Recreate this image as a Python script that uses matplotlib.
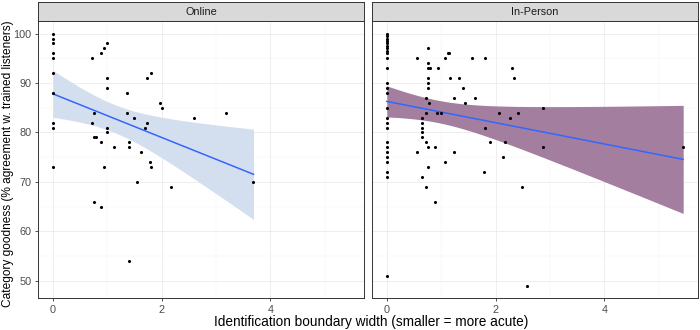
import numpy as np
import matplotlib.pyplot as plt

plt.rcParams['font.family'] = ['Liberation Sans', 'DejaVu Sans']

# Online panel: boundary width vs category goodness
online_x = [0, 0, 0, 0, 0, 0, 0, 0, 0, 0,
            0.72, 0.88, 0.94, 0.99, 0.99, 0.99, 1.37, 1.80, 1.74, 1.97,
            2.01, 2.60, 3.18, 0.76, 1.37, 1.50, 0.72, 1.74, 1.69, 0.99,
            0.99, 0.76, 0.79, 0.88, 1.12, 1.41, 1.41, 1.63, 1.79, 1.80,
            0.94, 1.54, 2.18, 0.76, 0.88, 1.41, 3.69]
online_y = [100, 99, 98, 96, 95, 92, 88, 82, 81, 73,
            95, 96, 97, 98, 91, 89, 88, 92, 91, 86,
            85, 83, 84, 84, 84, 83, 82, 82, 81, 81,
            80, 79, 79, 78, 77, 78, 77, 76, 74, 73,
            73, 70, 69, 66, 65, 54, 70]

# In-person panel
person_x = [0] * 26 + [
    0.76, 0.55, 0.76, 0.76, 0.79, 0.95, 0.76, 1.16, 0.76, 0.76,
    0.72, 1.23, 1.13, 1.15, 1.07, 1.56, 1.80, 2.31, 2.33, 1.32,
    1.41, 1.63, 1.44, 2.06, 2.42, 2.26, 1.80, 1.90, 2.17, 1.24,
    2.13, 1.79, 0.72, 0.93, 0.99, 0.65, 0.65, 0.65, 0.65, 0.65,
    0.72, 0.765, 0.88, 0.55, 1.07, 0.765, 0.65, 0.72, 2.48, 0.88,
    2.58, 2.88, 2.87, 5.45, 0.77]
person_y = [100, 99.5, 99, 98.5, 98, 97.5, 97, 96.5, 96, 95, 93, 90, 89, 88,
            85, 83, 82, 81, 78, 77, 76, 75, 74, 72, 71, 51] + [
    97, 95, 94, 93, 93, 93, 91, 91, 90, 89,
    87, 87, 96, 96, 95, 95, 95, 93, 91, 91,
    89, 87, 86, 84, 84, 83, 81, 78, 78, 76,
    75, 72, 84, 84, 84, 83, 82, 81, 80, 79,
    78, 77, 77, 76, 74, 73, 71, 69, 69, 66,
    49, 85, 77, 77, 86]

panels = [("Online", online_x, online_y, "#D3DFEE"),
          ("In-Person", person_x, person_y, "#A47E9F")]


def lm_band(x, y):
    # ordinary least squares with a 95% confidence band, like geom_smooth(method="lm")
    x = np.asarray(x, float)
    y = np.asarray(y, float)
    n = len(x)
    b, a = np.polyfit(x, y, 1)
    resid = y - (a + b * x)
    s = np.sqrt(np.sum(resid ** 2) / (n - 2))
    sxx = np.sum((x - x.mean()) ** 2)
    df = n - 2
    z = 1.959964
    t = z + (z ** 3 + z) / (4 * df) + (5 * z ** 5 + 16 * z ** 3 + 3 * z) / (96 * df ** 2)
    xs = np.linspace(x.min(), x.max(), 80)
    fit = a + b * xs
    se = s * np.sqrt(1 / n + (xs - x.mean()) ** 2 / sxx)
    return xs, fit, fit - t * se, fit + t * se


fig = plt.figure(figsize=(7, 3.3), dpi=100)
lefts = [38 / 700, 372 / 700]
width = 326 / 700
bottom = 31.7 / 330
height = 277.3 / 330

for i, (name, xv, yv, fill) in enumerate(panels):
    ax = fig.add_axes([lefts[i], bottom, width, height])
    xs, fit, lo, hi = lm_band(xv, yv)
    ax.fill_between(xs, lo, hi, color=fill, lw=0, zorder=2)
    ax.plot(xs, fit, color="#3366FF", lw=1.1, zorder=3)
    ax.scatter(xv, yv, s=5, color="black", lw=0, zorder=4)

    ax.set_xlim(-0.2725, 5.7225)
    ax.set_ylim(46.45, 102.55)
    ax.set_xticks([0, 2, 4])
    ax.set_xticks([1, 3, 5], minor=True)
    ax.set_yticks([50, 60, 70, 80, 90, 100])
    ax.set_yticks([55, 65, 75, 85, 95], minor=True)
    ax.grid(which="major", color="#EBEBEB", lw=0.6, zorder=0)
    ax.grid(which="minor", color="#F3F3F3", lw=0.35, zorder=0)
    ax.set_axisbelow(True)
    for sp in ax.spines.values():
        sp.set_color("#333333")
        sp.set_linewidth(0.7)
    ax.tick_params(which="major", length=2.5, width=0.6, color="#333333",
                   labelsize=7.8, labelcolor="#4D4D4D", pad=2)
    ax.tick_params(which="minor", length=0)
    if i == 1:
        ax.tick_params(axis="y", which="both", left=False, labelleft=False)

    # facet strip
    strip = fig.add_axes([lefts[i], 0.936, width, 19 / 330])
    strip.set_facecolor("#D9D9D9")
    strip.set_xticks([])
    strip.set_yticks([])
    for sp in strip.spines.values():
        sp.set_color("#333333")
        sp.set_linewidth(0.7)
    strip.text(0.5, 0.5, name, ha="center", va="center", fontsize=7.8,
               color="#1A1A1A", transform=strip.transAxes)

fig.text(0.53, 8 / 330, "Identification boundary width (smaller = more acute)",
         ha="center", va="center", fontsize=9.8, color="black")
fig.text(8 / 700, 0.505, "Category goodness (% agreement w. trained listeners)",
         ha="center", va="center", rotation=90, fontsize=8.6, color="black")

fig.savefig("out.png", dpi=100)
